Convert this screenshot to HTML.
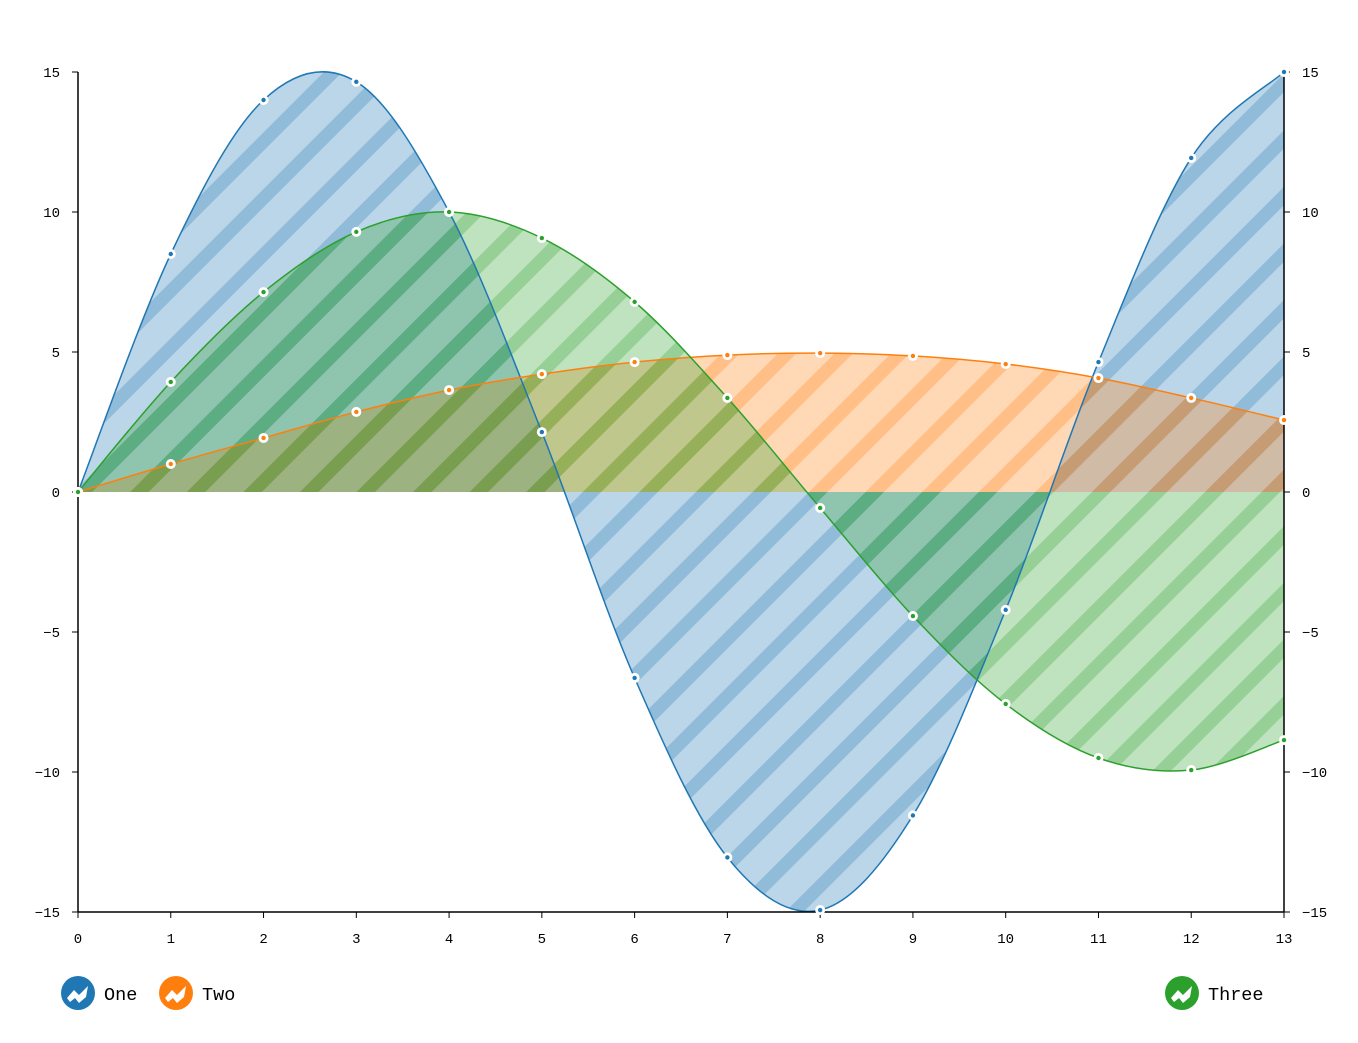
<!DOCTYPE html>
<html><head><meta charset="utf-8"><style>
body{margin:0;background:#fff}
svg text{font-family:"Liberation Mono",monospace;fill:#000}
</style></head><body>
<svg id="chart" width="1358" height="1038">
<defs>
<pattern id="stripes" patternUnits="userSpaceOnUse" width="40" height="40" patternTransform="rotate(45)">
<rect x="0" y="0" width="13" height="40" fill="#fff"/>
</pattern>
</defs>
<g id="areas"></g><g id="lines"></g><g id="axes"></g><g id="points"></g><g id="legend"></g>
</svg>
<script>
const categories=[0,1,2,3,4,5,6,7,8,9,10,11,12,13];
const seriesNames=["One","Two","Three"];
const seriesColors=["#1f77b4","#ff7f0e","#2ca02c"];
const valuesOne=[0,8.5,14,14.65,10,2.14,-6.64,-13.05,-14.93,-11.55,-4.21,4.64,11.93,15];
const valuesTwo=[0,1,1.93,2.86,3.64,4.21,4.64,4.89,4.96,4.86,4.57,4.07,3.36,2.57];
const valuesThree=[0,3.93,7.14,9.29,10,9.07,6.79,3.36,-0.57,-4.43,-7.57,-9.5,-9.93,-8.86];
const yTicks=[-15,-10,-5,0,5,10,15];
const NS="http://www.w3.org/2000/svg";
const X0=78,X1=1284,Y0=912,Y1=72;
const x=v=>X0+(v-0)/(13-0)*(X1-X0);
const y=v=>Y0-(v+15)/30*(Y0-Y1);
function mk(tag,attrs,parent){const e=document.createElementNS(NS,tag);for(const k in attrs)e.setAttribute(k,attrs[k]);parent.appendChild(e);return e;}
function curve(pts){let d="M"+pts[0][0]+","+pts[0][1];for(let i=0;i<pts.length-1;i++){const p0=pts[i-1]||pts[i],p1=pts[i],p2=pts[i+1],p3=pts[i+2]||p2;
const c1=[p1[0]+(p2[0]-p0[0])/6,p1[1]+(p2[1]-p0[1])/6],c2=[p2[0]-(p3[0]-p1[0])/6,p2[1]-(p3[1]-p1[1])/6];
d+=" C"+c1[0]+","+c1[1]+" "+c2[0]+","+c2[1]+" "+p2[0]+","+p2[1];}return d;}
const svg=document.getElementById("chart");
const defs=svg.querySelector("defs");
const all=[valuesOne,valuesTwo,valuesThree];
all.forEach((vals,si)=>{
  const c=seriesColors[si];
  const m=mk("mask",{id:"m"+si,maskUnits:"userSpaceOnUse",x:0,y:0,width:1358,height:1038},defs);
  mk("rect",{x:0,y:0,width:1358,height:1038,fill:"#000"},m);
  mk("rect",{x:0,y:0,width:1358,height:1038,fill:"url(#stripes)"},m);
  const pts=vals.map((v,i)=>[x(categories[i]),y(v)]);
  const line=curve(pts);
  const area=line+" L"+x(categories[categories.length-1])+","+y(0)+" L"+x(categories[0])+","+y(0)+" Z";
  const g=mk("g",{},document.getElementById("areas"));
  
  
  mk("path",{d:area,fill:c,"fill-opacity":0.3},g);
  mk("path",{d:area,fill:c,"fill-opacity":0.28,mask:"url(#m"+si+")"},g);
  const l=mk("path",{d:line,fill:"none",stroke:c,"stroke-width":1.5},document.getElementById("lines"));
  
  
  pts.forEach((p,i)=>{
    const pt=mk("g",{},document.getElementById("points"));
    
    
    mk("circle",{cx:p[0],cy:p[1],r:5,fill:"#fff"},pt);
    mk("circle",{cx:p[0],cy:p[1],r:2.2,fill:c},pt);
  });
});
const ax=document.getElementById("axes");
const axStyle={stroke:"#000","stroke-width":1.5,fill:"none"};
let e=mk("line",Object.assign({x1:X0,y1:Y1,x2:X0,y2:Y0},axStyle),ax);

e=mk("line",Object.assign({x1:X1,y1:Y1,x2:X1,y2:Y0},axStyle),ax);

e=mk("line",Object.assign({x1:X0,y1:Y0,x2:X1,y2:Y0},axStyle),ax);

const fmt=t=>String(t).replace("-","\u2212");
yTicks.forEach(t=>{
  mk("line",{x1:X0-6,x2:X0,y1:y(t),y2:y(t),stroke:"#000"},ax);
  mk("line",{x1:X1,x2:X1+6,y1:y(t),y2:y(t),stroke:"#000"},ax);
  let tl=mk("text",{x:X0-18,y:y(t)+5,"text-anchor":"end","font-size":14},ax);tl.textContent=fmt(t);
  
  let tr=mk("text",{x:X1+18,y:y(t)+5,"font-size":14},ax);tr.textContent=fmt(t);
  
});
categories.forEach(c=>{
  mk("line",{x1:x(c),x2:x(c),y1:Y0,y2:Y0+6,stroke:"#000"},ax);
  let t=mk("text",{x:x(c),y:Y0+31,"text-anchor":"middle","font-size":14},ax);t.textContent=c;
  
});
const lg=document.getElementById("legend");
const legendX=[78,176,1182];
seriesNames.forEach((n,i)=>{
  const g=mk("g",{transform:"translate("+legendX[i]+",993)"},lg);
  
  
  mk("circle",{cx:0,cy:0,r:17,fill:seriesColors[i]},g);
  mk("path",{d:"M-11,5 L-4,-3 L1,2 L10,-7 L8,4 L1,10 L-3,5 L-8,9 Z",fill:"#fff"},g);
  const t=mk("text",{x:26,y:7,"font-size":18.5},g);t.textContent=n;
});
</script>
</body></html>
